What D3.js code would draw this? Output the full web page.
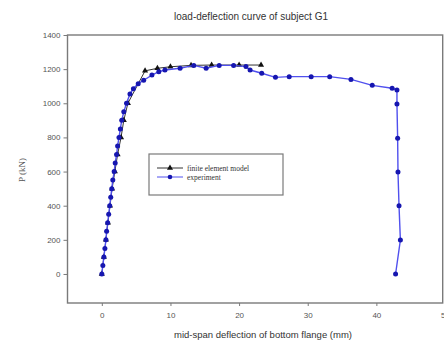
<!DOCTYPE html>
<html>
<head>
<meta charset="utf-8">
<script src="https://cdn.jsdelivr.net/npm/d3@7/dist/d3.min.js"></script>
<style>
  body { margin: 0; background: #fff; }
  svg { display: block; }
</style>
</head>
<body>
<svg id="chart" width="444" height="345"></svg>
<script>
// datos
const femX = [0, 0.3, 0.6, 0.9, 1.2, 1.5, 1.9, 2.3, 2.8, 3.2, 3.8, 6.3, 8.1, 10, 13, 16, 20, 23.2];
const femP = [0, 100, 200, 300, 400, 500, 600, 700, 800, 900, 1000, 1190, 1205, 1214, 1222, 1224, 1224, 1224];

const expX = [0, 0.15, 0.3, 0.45, 0.6, 0.7, 0.85, 1.0, 1.15, 1.3, 1.45, 1.6, 1.8, 1.95, 2.15, 2.3, 2.5, 2.7, 2.9, 3.2,
  3.6, 4.1, 4.6, 5.3, 6.1, 7.3, 8.3, 9.2, 11.4, 13.4, 15.2, 17.1, 19.2, 21, 21.6, 23.3, 25.3, 27.3, 30.5, 33.2,
  36.3, 39.4, 42.3, 43.0, 43.0, 43.1, 43.15, 43.3, 43.5, 42.8];
const expP = [0, 50, 100, 150, 200, 250, 300, 350, 400, 450, 500, 550, 600, 650, 700, 750, 800, 850, 900, 950,
  1000, 1055, 1085, 1115, 1135, 1165, 1185, 1195, 1205, 1222, 1205, 1222, 1222, 1215, 1195, 1176, 1152, 1156, 1156, 1156,
  1140, 1105, 1088, 1078, 996, 795, 598, 400, 199, 0];

const xTicks = [0, 10, 20, 30, 40, 50];
const yTicks = [0, 200, 400, 600, 800, 1000, 1200, 1400];
const legendNames = ["finite element model", "experiment"];

const svg = d3.select("#chart");

const x = d3.scaleLinear().domain([-5, 50]).range([67.5, 445]);
const y = d3.scaleLinear().domain([-170, 1400]).range([303, 35]);

const gris = "#7a7a7a";
const azulLinea = "#5050ee";
const azulPto = "#1616b0";

// marco
svg.append("rect")
  .attr("x", 67.5).attr("y", 35)
  .attr("width", 442.7 - 67.5).attr("height", 303 - 35)
  .attr("fill", "none").attr("stroke", gris).attr("stroke-width", 1.4);

// ejes
const ejeX = svg.append("g")
  .attr("transform", "translate(0,303)")
  .call(d3.axisBottom(x).tickValues(xTicks).tickFormat(d3.format("d")).tickSize(3).tickSizeOuter(0));
const ejeY = svg.append("g")
  .attr("transform", "translate(67.5,0)")
  .call(d3.axisLeft(y).tickValues(yTicks).tickFormat(d3.format("d")).tickSize(4).tickSizeOuter(0));

[ejeX, ejeY].forEach(g => {
  g.select(".domain").remove();
  g.selectAll("line").attr("stroke", gris);
  g.selectAll("text")
    .attr("fill", "#555")
    .style("font-family", "Liberation Sans, Arial, sans-serif")
    .style("font-size", "8px");
});
ejeX.selectAll("text").attr("dy", "1.1em");
ejeY.selectAll("text").attr("x", -7);

// titulo y etiquetas
svg.append("text")
  .attr("x", 251).attr("y", 20)
  .attr("text-anchor", "middle")
  .attr("fill", "#333")
  .style("font-family", "Liberation Sans, Arial, sans-serif")
  .style("font-size", "10px")
  .text("load-deflection curve of subject G1");

svg.append("text")
  .attr("x", 263).attr("y", 338)
  .attr("text-anchor", "middle")
  .attr("fill", "#333")
  .style("font-family", "Liberation Sans, Arial, sans-serif")
  .style("font-size", "9.5px")
  .text("mid-span deflection of bottom flange (mm)");

svg.append("text")
  .attr("transform", "translate(25,170) rotate(-90)")
  .attr("text-anchor", "middle")
  .attr("fill", "#555")
  .style("font-family", "Liberation Serif, Times New Roman, serif")
  .style("font-size", "9px")
  .text("P (kN)");

// series
const fem = femX.map((v, i) => [v, femP[i]]);
const exp = expX.map((v, i) => [v, expP[i]]);
const linea = d3.line().x(d => x(d[0])).y(d => y(d[1]));
const triangulo = d3.symbol().type(d3.symbolTriangle).size(16);

svg.append("path").datum(fem)
  .attr("d", linea).attr("fill", "none")
  .attr("stroke", "#333").attr("stroke-width", 1);
svg.selectAll(".tri").data(fem).join("path")
  .attr("class", "tri")
  .attr("transform", d => `translate(${x(d[0])},${y(d[1])})`)
  .attr("d", triangulo).attr("fill", "#111");

svg.append("path").datum(exp)
  .attr("d", linea).attr("fill", "none")
  .attr("stroke", azulLinea).attr("stroke-width", 1.4);
svg.selectAll(".pto").data(exp).join("circle")
  .attr("class", "pto")
  .attr("cx", d => x(d[0])).attr("cy", d => y(d[1]))
  .attr("r", 2.5).attr("fill", azulPto);

// leyenda
const ley = svg.append("g");
ley.append("rect")
  .attr("x", 149).attr("y", 154).attr("width", 134).attr("height", 41)
  .attr("fill", "#fff").attr("stroke", gris).attr("stroke-width", 1.2);

legendNames.forEach((n, i) => {
  const yy = 168 + i * 9;
  ley.append("line")
    .attr("x1", 157).attr("x2", 183).attr("y1", yy).attr("y2", yy)
    .attr("stroke", i === 0 ? "#333" : azulLinea).attr("stroke-width", 1);
  if (i === 0) {
    ley.append("path").attr("transform", `translate(170,${yy})`)
      .attr("d", triangulo).attr("fill", "#111");
  } else {
    ley.append("circle").attr("cx", 170).attr("cy", yy).attr("r", 2.3).attr("fill", azulPto);
  }
  ley.append("text")
    .attr("x", 187).attr("y", yy + 2.5)
    .attr("fill", "#333")
    .style("font-family", "Liberation Serif, Times New Roman, serif")
    .style("font-size", "7.5px")
    .text(n);
});
</script>
</body>
</html>
